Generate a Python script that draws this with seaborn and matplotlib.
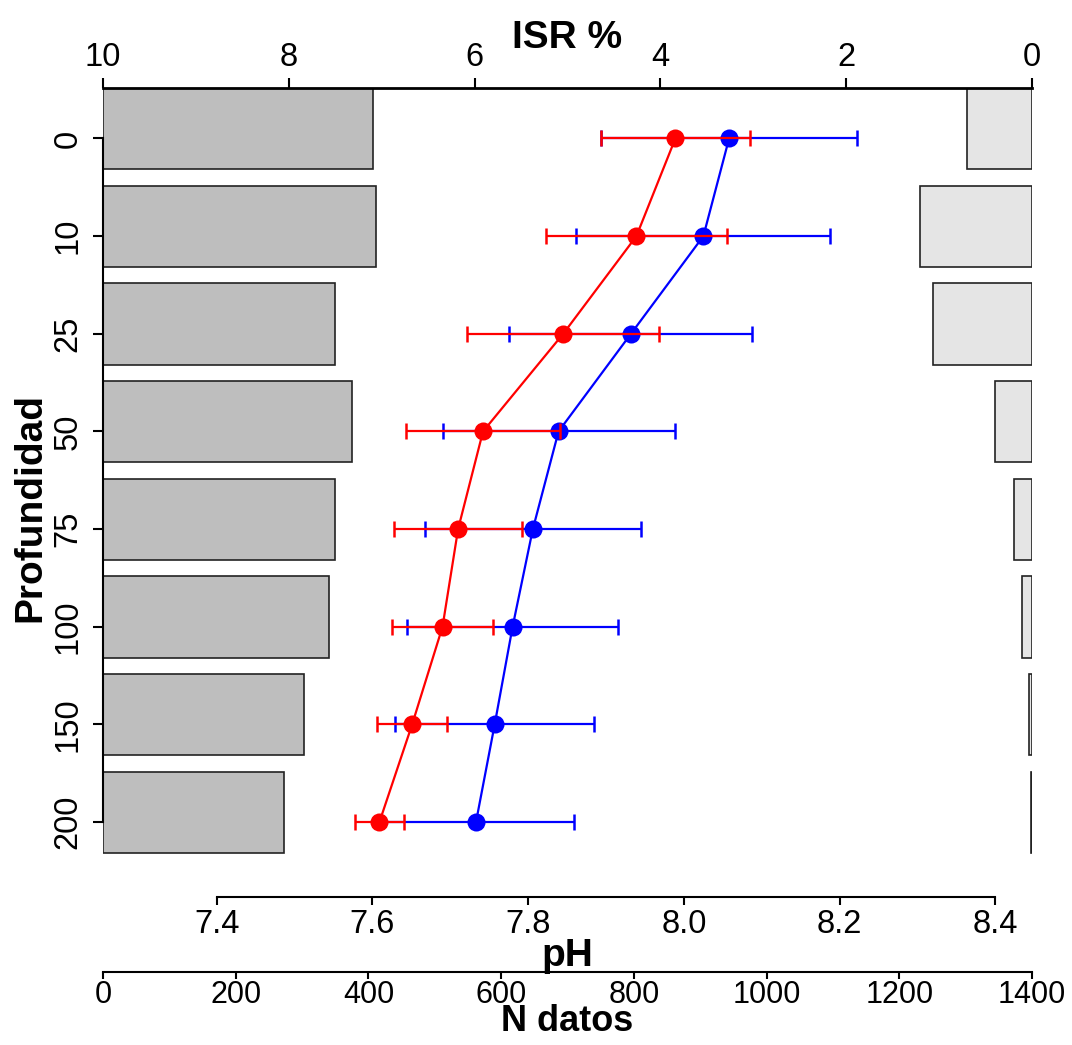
import numpy as np
import pandas as pd
import seaborn as sns
import matplotlib.pyplot as plt

sns.set_style("white")
plt.rcParams['font.family'] = ['Liberation Sans Narrow', 'Liberation Sans', 'DejaVu Sans']
plt.rcParams['text.color'] = 'black'
plt.rcParams['axes.labelcolor'] = 'black'
plt.rcParams['xtick.color'] = 'black'
plt.rcParams['ytick.color'] = 'black'
plt.rcParams['axes.edgecolor'] = 'black'

depth = ["0", "10", "25", "50", "75", "100", "150", "200"]
n_datos = [407, 411, 349, 375, 349, 341, 303, 273]
isr = [0.70, 1.21, 1.07, 0.40, 0.19, 0.11, 0.03, 0.01]
ph_red = [7.989, 7.939, 7.845, 7.742, 7.710, 7.690, 7.651, 7.609]
sd_red = [0.096, 0.116, 0.123, 0.099, 0.082, 0.065, 0.045, 0.032]
ph_blue = [8.058, 8.025, 7.932, 7.839, 7.806, 7.780, 7.757, 7.733]
sd_blue = [0.164, 0.163, 0.156, 0.149, 0.139, 0.135, 0.128, 0.126]

df = pd.DataFrame({"depth": depth, "n": n_datos, "isr": isr,
                   "ph_red": ph_red, "sd_red": sd_red,
                   "ph_blue": ph_blue, "sd_blue": sd_blue})
df["pos"] = np.arange(len(df))

fig = plt.figure(figsize=(10.72, 10.45), dpi=100)
rect = [103 / 1072, 1 - 866 / 1045, 929 / 1072, 778 / 1045]
ax_n = fig.add_axes(rect)
ax_isr = fig.add_axes(rect)
ax_ph = fig.add_axes(rect)

tick_fs = 23.5
lab_fs = 28

# N datos bars (from left)
sns.barplot(data=df, x="n", y="depth", orient="h", order=depth, ax=ax_n,
            color="#BEBEBE", saturation=1, edgecolor="#222222", linewidth=1.2, width=0.833)
ax_n.set_xlim(0, 1400)
ax_n.set_ylim(7.55, -0.417)
for s in ["top", "left", "right"]:
    ax_n.spines[s].set_visible(False)
ax_n.spines["bottom"].set_position(("outward", 76))
ax_n.spines["bottom"].set_linewidth(1.5)
ax_n.set_xticks(range(0, 1401, 200))
ax_n.tick_params(axis="x", length=5, width=1.5, labelsize=22, pad=1, bottom=True)
ax_n.set_yticks([])
ax_n.set_ylabel("")
ax_n.set_xlabel("N datos", fontsize=26, fontweight="bold")
ax_n.xaxis.set_label_coords(0.5, -0.1774)

# ISR bars (from right)
sns.barplot(data=df, x="isr", y="depth", orient="h", order=depth, ax=ax_isr,
            color="#E5E5E5", saturation=1, edgecolor="#222222", linewidth=1.2, width=0.833)
ax_isr.set_xlim(10, 0)
ax_isr.set_ylim(7.55, -0.417)
ax_isr.patch.set_visible(False)
for s in ["bottom", "left", "right"]:
    ax_isr.spines[s].set_visible(False)
ax_isr.spines["top"].set_linewidth(2)
ax_isr.xaxis.tick_top()
ax_isr.xaxis.set_label_position("top")
ax_isr.set_xticks(range(0, 11, 2))
ax_isr.tick_params(axis="x", length=7, width=1.5, labelsize=tick_fs, pad=4, top=True)
ax_isr.set_yticks([])
ax_isr.set_ylabel("")
ax_isr.set_xlabel("ISR %", fontsize=lab_fs, fontweight="bold")
ax_isr.xaxis.set_label_coords(0.5, 1.052)

# pH profiles
ax_ph.patch.set_visible(False)
sns.lineplot(data=df, x="ph_blue", y="pos", sort=False, estimator=None, orient="y",
             color="blue", marker="o", markersize=13, markeredgewidth=0, linewidth=1.6, ax=ax_ph)
ax_ph.errorbar(df["ph_blue"], df["pos"], xerr=df["sd_blue"], fmt="none", ecolor="blue",
               elinewidth=1.6, capsize=5.5, capthick=1.8)
sns.lineplot(data=df, x="ph_red", y="pos", sort=False, estimator=None, orient="y",
             color="red", marker="o", markersize=13, markeredgewidth=0, linewidth=1.6, ax=ax_ph)
ax_ph.errorbar(df["ph_red"], df["pos"], xerr=df["sd_red"], fmt="none", ecolor="red",
               elinewidth=1.6, capsize=5.5, capthick=1.8)
ax_ph.set_xlim(7.254, 8.447)
ax_ph.set_ylim(7.45, -0.517)
for s in ["top", "right"]:
    ax_ph.spines[s].set_visible(False)
ax_ph.spines["bottom"].set_position(("outward", 22.3))
ax_ph.spines["bottom"].set_bounds(7.4, 8.4)
ax_ph.spines["bottom"].set_linewidth(1.5)
ax_ph.spines["left"].set_bounds(0, 7)
ax_ph.spines["left"].set_linewidth(1.5)
ax_ph.set_xticks([7.4, 7.6, 7.8, 8.0, 8.2, 8.4])
ax_ph.set_xticklabels(["7.4", "7.6", "7.8", "8.0", "8.2", "8.4"])
ax_ph.tick_params(axis="x", length=6, width=1.5, labelsize=tick_fs, pad=3, bottom=True)
ax_ph.set_yticks(df["pos"])
ax_ph.set_yticklabels(depth, rotation=90, va="center")
ax_ph.tick_params(axis="y", length=7, width=1.5, labelsize=tick_fs, pad=7, left=True)
ax_ph.set_xlabel("pH", fontsize=lab_fs, fontweight="bold")
ax_ph.xaxis.set_label_coords(0.5, -0.093)
ax_ph.set_ylabel("Profundidad", fontsize=lab_fs, fontweight="bold")
ax_ph.yaxis.set_label_coords(-0.059, 0.4614)

fig.savefig("out.png", dpi=100)
